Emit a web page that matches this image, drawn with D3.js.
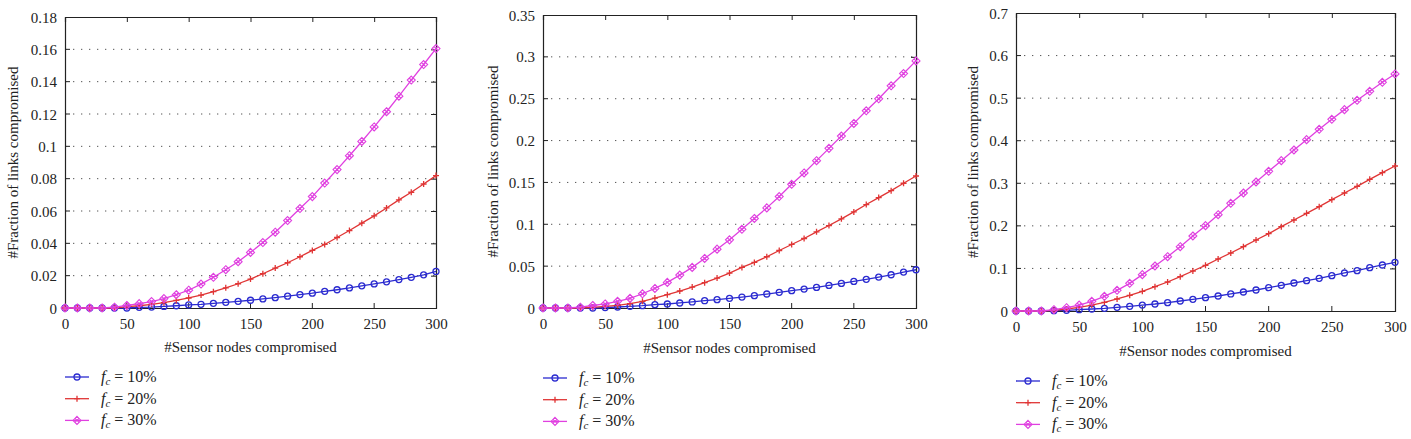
<!DOCTYPE html>
<html><head><meta charset="utf-8">
<script src="https://cdn.jsdelivr.net/npm/d3@7"></script>
<style>
body{margin:0;background:#fff;}
svg{display:block;}
svg text{font-family:"Liberation Serif","DejaVu Serif","Noto Serif",Tinos,"Times New Roman",Times,serif !important;fill:#222;}
</style></head>
<body>
<svg id="chart" width="1411" height="439"></svg>
<script>
const xValues = d3.range(0, 301, 10);
const seriesNames = ["10%", "20%", "30%"];
const seriesColors = ["#2b2bd0", "#e03535", "#e040e0"];
const seriesMarkers = ["circle", "plus", "diamond"];
const xTicks = [0, 50, 100, 150, 200, 250, 300];

// Panel 1
const p1Blue = [0,0,0,0,0,0,0.0004,0.0006,0.001,0.0014,0.0019,0.0023,0.0029,0.0035,0.0041,0.0048,0.0056,0.0064,0.0073,0.0083,0.0092,0.0103,0.0113,0.0124,0.0137,0.0149,0.0162,0.0176,0.019,0.0205,0.0226];
const p1Red = [0,0,0,0,0,0.0008,0.0014,0.0023,0.0033,0.0047,0.0062,0.008,0.0101,0.0125,0.015,0.0179,0.0212,0.0247,0.028,0.0317,0.0356,0.0393,0.0436,0.0479,0.0525,0.057,0.0619,0.0669,0.0716,0.0767,0.0819];
const p1Mag = [0,0,0,0,0.0005,0.0016,0.0027,0.004,0.0058,0.0082,0.011,0.0148,0.019,0.0237,0.0286,0.0344,0.0405,0.0469,0.0541,0.0615,0.0689,0.0773,0.0856,0.0942,0.103,0.112,0.1214,0.131,0.141,0.1506,0.1605];
const p1Ticks = [0,0.02,0.04,0.06,0.08,0.1,0.12,0.14,0.16,0.18];

// Panel 2
const p2Blue = [0,0,0,0,0,0.0005,0.0012,0.002,0.0028,0.004,0.0048,0.006,0.0072,0.0087,0.0099,0.0115,0.0131,0.0147,0.0167,0.0187,0.0207,0.0226,0.0246,0.027,0.0294,0.0318,0.0342,0.0369,0.0397,0.0429,0.0457];
const p2Red = [0,0,0,0,0.0008,0.002,0.0032,0.0052,0.008,0.0119,0.0159,0.0203,0.025,0.0302,0.0358,0.0417,0.0485,0.0544,0.0612,0.0687,0.0759,0.083,0.091,0.0985,0.1065,0.1148,0.1236,0.1319,0.1402,0.149,0.1577];
const p2Mag = [0,0,0,0.001,0.003,0.0048,0.008,0.0115,0.017,0.0234,0.0306,0.0393,0.0485,0.0592,0.0703,0.0814,0.094,0.1069,0.1196,0.1331,0.1478,0.1613,0.176,0.1907,0.2054,0.2205,0.2356,0.2499,0.2654,0.2801,0.2952];
const p2Ticks = [0,0.05,0.1,0.15,0.2,0.25,0.3,0.35];

// Panel 3
const p3Blue = [0,0,0,0.0008,0.0016,0.003,0.0047,0.0063,0.0086,0.011,0.014,0.0164,0.0196,0.0235,0.0274,0.0313,0.0352,0.04,0.0446,0.0493,0.0548,0.0603,0.0658,0.0713,0.0767,0.083,0.0893,0.0948,0.1018,0.1081,0.1143];
const p3Red = [0,0,0,0.0015,0.0047,0.0086,0.014,0.0204,0.0282,0.0368,0.0462,0.0572,0.0681,0.0807,0.094,0.1073,0.1222,0.1363,0.1511,0.1668,0.1817,0.1981,0.2138,0.2294,0.2451,0.2615,0.2772,0.2929,0.3093,0.325,0.3406];
const p3Mag = [0,0,0,0.003,0.0078,0.014,0.0227,0.0345,0.0486,0.065,0.0854,0.1057,0.1276,0.1511,0.1762,0.2005,0.2263,0.2529,0.2772,0.303,0.3281,0.3532,0.3782,0.4025,0.4268,0.4503,0.473,0.4949,0.516,0.5372,0.5568];
const p3Ticks = [0,0.1,0.2,0.3,0.4,0.5,0.6,0.7];

const xLabel = "#Sensor nodes compromised";
const yLabel = "#Fraction of links compromised";

const panels = [
  {series:[p1Blue,p1Red,p1Mag], ticks:p1Ticks, ymax:0.18, x0:65, x1:436, y0:308, y1:17, ylabX:13, xlabY:352, legX:65, legY:377},
  {series:[p2Blue,p2Red,p2Mag], ticks:p2Ticks, ymax:0.35, x0:543, x1:916, y0:308, y1:15, ylabX:493, xlabY:353, legX:543, legY:378},
  {series:[p3Blue,p3Red,p3Mag], ticks:p3Ticks, ymax:0.7, x0:1016, x1:1395, y0:311, y1:13, ylabX:973, xlabY:356, legX:1016, legY:381}
];

const svg = d3.select("#chart");

function drawMarker(g, type, color) {
  if (type === "circle") {
    g.append("circle").attr("r", 3).attr("fill", "none").attr("stroke", color).attr("stroke-width", 1.3);
  } else if (type === "plus") {
    g.append("path").attr("d", "M-3,0H3M0,-3V3").attr("stroke", color).attr("stroke-width", 1.3).attr("fill", "none");
  } else {
    g.append("path").attr("d", "M0,-4L4,0L0,4L-4,0Z M-1.8,-1.8L1.8,1.8M-1.8,1.8L1.8,-1.8").attr("stroke", color).attr("stroke-width", 1.1).attr("fill", "none");
  }
}

panels.forEach(p => {
  const x = d3.scaleLinear().domain([0, 300]).range([p.x0, p.x1]);
  const y = d3.scaleLinear().domain([0, p.ymax]).range([p.y0, p.y1]);
  const g = svg.append("g");
  const fmt = d => (+d.toFixed(2)).toString();

  // grid
  g.append("g").selectAll("line").data(p.ticks.filter(t => t > 0 && t < p.ymax - 1e-9)).join("line")
    .attr("x1", p.x0).attr("x2", p.x1).attr("y1", d => y(d)).attr("y2", d => y(d))
    .attr("stroke", "#555").attr("stroke-width", 1).attr("stroke-dasharray", "1.3,6.7");

  // axes
  const bottom = g.append("g").attr("transform", `translate(0,${p.y0})`)
    .call(d3.axisBottom(x).tickValues(xTicks).tickSize(0).tickPadding(10).tickFormat(d3.format("d")));
  const top = g.append("g").attr("transform", `translate(0,${p.y1})`)
    .call(d3.axisTop(x).tickValues(xTicks).tickSize(-5).tickFormat(""));
  const left = g.append("g").attr("transform", `translate(${p.x0},0)`)
    .call(d3.axisLeft(y).tickValues(p.ticks).tickSize(0).tickPadding(8).tickFormat(fmt));
  const right = g.append("g").attr("transform", `translate(${p.x1},0)`)
    .call(d3.axisRight(y).tickValues(p.ticks).tickSize(-5).tickFormat(""));
  // inner tick marks bottom & left
  g.append("g").selectAll("line").data(xTicks.slice(1, -1)).join("line")
    .attr("x1", d => x(d)).attr("x2", d => x(d)).attr("y1", p.y0).attr("y2", p.y0 - 5).attr("stroke", "#222");
  g.append("g").selectAll("line").data(p.ticks.slice(1, -1)).join("line")
    .attr("x1", p.x0).attr("x2", p.x0 + 5).attr("y1", d => y(d)).attr("y2", d => y(d)).attr("stroke", "#222");
  [bottom, top, left, right].forEach(a => {
    a.attr("font-family", null);
    a.select(".domain").attr("stroke", "#222").attr("stroke-width", 1.2);
    a.selectAll(".tick line").attr("stroke", "#222");
    a.selectAll("text").attr("font-size", 15).attr("fill", "#222");
  });
  left.selectAll(".tick text").attr("dy", "0.34em");

  // series
  const line = d3.line().x((d, i) => x(xValues[i])).y(d => y(d));
  p.series.forEach((vals, si) => {
    g.append("path").datum(vals).attr("d", line).attr("fill", "none")
      .attr("stroke", seriesColors[si]).attr("stroke-width", 1.3);
    vals.forEach((v, i) => {
      const m = g.append("g").attr("transform", `translate(${x(xValues[i])},${y(v)})`);
      drawMarker(m, seriesMarkers[si], seriesColors[si]);
    });
  });

  // labels
  g.append("text").attr("x", (p.x0 + p.x1) / 2).attr("y", p.xlabY).attr("text-anchor", "middle")
    .attr("font-size", 15).text(xLabel);
  g.append("text").attr("transform", `translate(${p.ylabX},${(p.y0 + p.y1) / 2}) rotate(-90)`)
    .attr("text-anchor", "middle").attr("dy", "0.35em").attr("font-size", 15).text(yLabel);

  // legend
  seriesNames.forEach((name, si) => {
    const ly = p.legY + si * 21.7;
    const lg = g.append("g");
    lg.append("line").attr("x1", p.legX).attr("x2", p.legX + 24).attr("y1", ly).attr("y2", ly)
      .attr("stroke", seriesColors[si]).attr("stroke-width", 1.3);
    const mg = lg.append("g").attr("transform", `translate(${p.legX + 12},${ly})`);
    drawMarker(mg, seriesMarkers[si], seriesColors[si]);
    const t = lg.append("text").attr("x", p.legX + 36).attr("y", ly + 5).attr("font-size", 16);
    t.append("tspan").attr("font-style", "italic").text("f");
    t.append("tspan").attr("font-style", "italic").attr("font-size", 11).attr("dy", 3).text("c");
    t.append("tspan").attr("dy", -3).text(" = " + name);
  });
});
</script>
</body></html>
